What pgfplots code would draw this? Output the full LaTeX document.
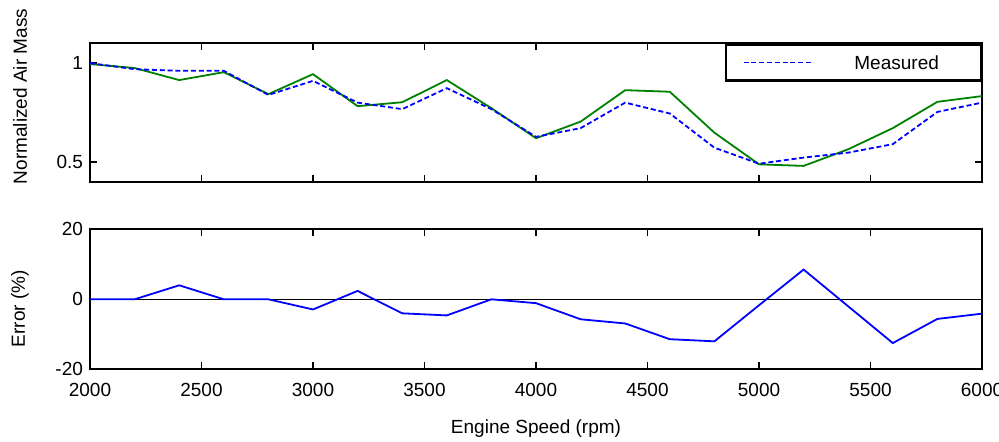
\documentclass[border=0pt]{standalone}
\usepackage{fontspec}
\setmainfont{Liberation Sans}
\usepackage{pgfplots}
\pgfplotsset{compat=1.18}
\usetikzlibrary{calc}
\definecolor{modelgreen}{RGB}{0,128,0}
\newcommand{\chartfont}{\fontsize{9.5}{11.5}\selectfont}

\pgfplotsset{
  rpmaxis/.style={
    scale only axis,
    width=446pt,
    xmin=2000, xmax=6000,
    xtick={2000,2500,...,6000},
    tick align=inside,
    major tick length=3.5pt,
    axis line style={line width=1.1pt},
    every tick/.style={black, line width=0.8pt},
    tick label style={font=\chartfont},
    label style={font=\chartfont},
    /pgf/number format/assume math mode=true,
    /pgf/number format/1000 sep={},
  },
}

\begin{document}
\begin{tikzpicture}
\begin{axis}[
    rpmaxis,
    name=top,
    height=69.2pt,
    ymin=0.4, ymax=1.1,
    ytick={0.5,1},
    xticklabels={},
    ylabel={Normalized Air Mass},
    ylabel style={at={(axis description cs:-0.0785,0.616)}, anchor=center},
    legend style={at={(1,1)}, anchor=north east, draw=black, line width=1.1pt,
      inner xsep=8.5pt, inner ysep=5.5pt, font=\chartfont,
      nodes={inner sep=0pt, text height=7pt, text depth=0pt},
      /tikz/column 1/.style={column sep=20pt}},
    legend image code/.code={\draw[#1] (0pt,0pt) -- (35pt,0pt);},
]
\addplot[modelgreen, line width=0.9pt, forget plot] coordinates {
  (2000,0.995) (2200,0.975) (2400,0.914) (2600,0.954) (2800,0.843)
  (3000,0.944) (3200,0.782) (3400,0.802) (3600,0.914) (3800,0.772)
  (4000,0.620) (4200,0.704) (4400,0.863) (4600,0.855) (4800,0.648)
  (5000,0.488) (5200,0.480) (5400,0.564) (5600,0.671) (5800,0.804)
  (6000,0.833)
};
\addplot[blue, line width=0.9pt, dash pattern=on 2.5pt off 1.4pt] coordinates {
  (2000,1.000) (2200,0.969) (2400,0.961) (2600,0.961) (2800,0.839)
  (3000,0.910) (3200,0.800) (3400,0.767) (3600,0.873) (3800,0.767)
  (4000,0.627) (4200,0.671) (4400,0.800) (4600,0.745) (4800,0.572)
  (5000,0.491) (5200,0.522) (5400,0.547) (5600,0.590) (5800,0.753)
  (6000,0.800)
};
\addlegendentry{Measured\rule{12.5pt}{0pt}}
\end{axis}

\begin{axis}[
    rpmaxis,
    at={($(top.north west)+(0,-93pt)$)}, anchor=north west,
    height=70pt,
    ymin=-20, ymax=20,
    ytick={-20,0,20},
    xticklabel style={yshift=-3.5pt},
    ylabel={Error (\%)},
    ylabel style={at={(axis description cs:-0.0785,0.434)}, anchor=center},
    xlabel={Engine Speed (rpm)},
    xlabel style={at={(axis description cs:0.5,-0.42)}, anchor=center},
]
\addplot[black, line width=0.6pt] coordinates {(2000,0) (6000,0)};
\addplot[blue, line width=0.9pt] coordinates {
  (2000,0) (2200,0) (2400,4.0) (2600,0) (2800,0)
  (3000,-2.9) (3200,2.4) (3400,-4.0) (3600,-4.6) (3800,0)
  (4000,-1.1) (4200,-5.7) (4400,-6.9) (4600,-11.4) (4800,-12.0)
  (5000,-1.7) (5200,8.5) (5400,-2.0) (5600,-12.5) (5800,-5.6)
  (6000,-4.1)
};
\end{axis}

\pgfresetboundingbox
\path ($(top.north west)+(-45pt,21.65pt)$) rectangle ($(top.north west)+(454.5pt,-198.85pt)$);
\end{tikzpicture}
\end{document}
